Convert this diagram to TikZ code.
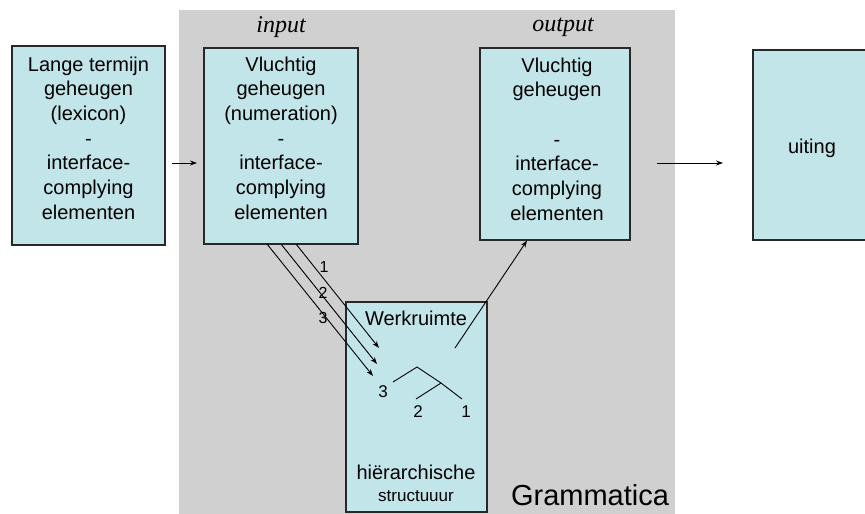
\documentclass[tikz,border=0pt]{standalone}
\usepackage{fontspec}
\setmainfont{Liberation Sans}
\newfontfamily\serifit{Liberation Serif}
\usetikzlibrary{arrows.meta}
\definecolor{boxfill}{RGB}{194,229,234}
\definecolor{bggray}{RGB}{208,208,208}
\definecolor{edge}{RGB}{40,40,40}
\tikzset{
  memb/.style={draw=edge, line width=1.1pt, fill=boxfill, inner sep=0pt},
  boxtext/.style={align=center, font=\fontsize{20}{24.7}\selectfont, inner sep=0pt},
  arr/.style={draw=black, line width=0.9pt, -{Stealth[length=7pt,width=5pt]}},
  seg/.style={draw=black, line width=0.9pt},
  num/.style={font=\fontsize{16}{18}\selectfont, inner sep=0pt},
  treenum/.style={font=\fontsize{17}{20}\selectfont, inner sep=0pt},
  ital/.style={font=\serifit\itshape\fontsize{24}{28}\selectfont, inner sep=0pt}
}
\begin{document}
\begin{tikzpicture}[x=1pt,y=-1pt]
\useasboundingbox (0,0) rectangle (865,514);
\clip (0,0) rectangle (865,514);
% background region
\fill[bggray] (179,10) rectangle (675,514);
% boxes
\node[memb, minimum width=153pt, minimum height=199pt] (L) at (88.5,145.5) {};
\node[memb, minimum width=154pt, minimum height=196pt] (in) at (281,146) {};
\node[memb, minimum width=150pt, minimum height=192pt] (out) at (555,144) {};
\node[memb, minimum width=127pt, minimum height=190pt] (ut) at (816.5,145) {};
\node[memb, minimum width=141pt, minimum height=210pt] (wk) at (416.5,407) {};
% texts
\node[boxtext] (Ltxt) at (88.5,138) {Lange termijn\\geheugen\\(lexicon)\\-\\interface-\\complying\\elementen};
\node[boxtext] (intxt) at (281,138) {Vluchtig\\geheugen\\(numeration)\\-\\interface-\\complying\\elementen};
\node[boxtext] (outtxt) at (557,139) {Vluchtig\\geheugen\\\mbox{}\\-\\interface-\\complying\\elementen};
\node[boxtext] (uttxt) at (812,148) {uiting};
\node[ital] (inlab) at (281,27) {input};
\node[ital] (outlab) at (563,27) {output};
\node[boxtext] (wktxt) at (416,318) {Werkruimte};
\node[boxtext] (hier) at (416,472) {hiërarchische};
\node[font=\fontsize{17}{20}\selectfont, inner sep=0pt] (struct) at (416,496) {structuuur};
\node[font=\fontsize{29}{32}\selectfont, inner sep=0pt, anchor=base] (gram) at (590,505) {Grammatica};
% horizontal arrows
\coordinate (a1) at (172,163);
\coordinate (a2) at (197,163);
\draw[arr] (a1) -- (a2);
\coordinate (b1) at (657,163);
\coordinate (b2) at (723,163);
\draw[arr] (b1) -- (b2);
% arrows into workspace
\coordinate (s1) at (296,244);
\coordinate (s2) at (281,244);
\coordinate (s3) at (267,244);
\coordinate (e1) at (379,348);
\coordinate (e2) at (377,364);
\coordinate (e3) at (373,376);
\draw[arr] (s1) -- (e1);
\draw[arr] (s2) -- (e2);
\draw[arr] (s3) -- (e3);
\node[num] (n1) at (324,267) {1};
\node[num] (n2) at (323,293) {2};
\node[num] (n3) at (323,318) {3};
% output arrow
\coordinate (o1) at (455,348);
\draw[arr] (o1) -- (out.south -| 527,0);
% tree
\coordinate (tl) at (393,382);
\coordinate (tap) at (417,367);
\coordinate (tm) at (441,383);
\coordinate (t2) at (416,399);
\coordinate (t1) at (462,399);
\draw[seg] (tl) -- (tap) -- (tm);
\draw[seg] (t2) -- (tm) -- (t1);
\node[treenum] (d3) at (383,392) {3};
\node[treenum] (d2) at (418,412) {2};
\node[treenum] (d1) at (466,412) {1};
\end{tikzpicture}
\end{document}
